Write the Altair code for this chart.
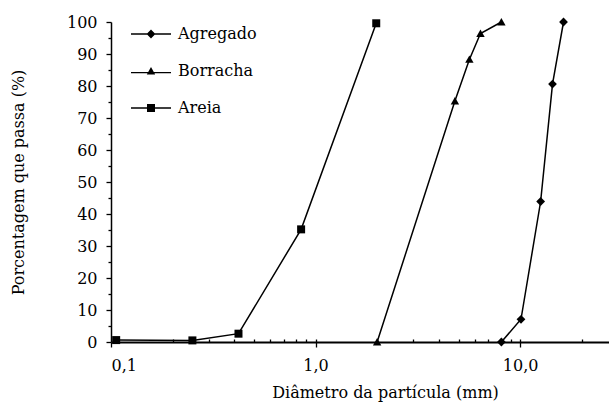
import altair as alt
import pandas as pd

# Particle size distribution curves (percent passing vs. particle diameter)
series_names = ["Agregado", "Borracha", "Areia"]

agregado_mm = [8.1, 10.1, 12.6, 14.4, 16.3]
agregado_pct = [0.0, 7.1, 43.9, 80.6, 100.0]

borracha_mm = [2.0, 4.8, 5.65, 6.4, 8.1]
borracha_pct = [0.0, 75.3, 88.3, 96.4, 100.0]

areia_mm = [0.106, 0.25, 0.42, 0.85, 1.98]
areia_pct = [0.6, 0.5, 2.6, 35.2, 99.6]

x_major = [0.1, 1.0, 10.0]
x_inner = [0.2, 0.3, 0.4, 0.5, 0.6, 0.7, 0.8, 0.9, 1.0,
           2.0, 3.0, 4.0, 5.0, 6.0, 7.0, 8.0, 9.0, 10.0, 20.0]
y_major = list(range(0, 101, 10))
y_minor = list(range(5, 100, 10))

# Plot markers: diamond, triangle, square
marker_paths = [
    "M0,-1.1L1.1,0L0,1.1L-1.1,0Z",
    "M0,-1L1.05,0.85L-1.05,0.85Z",
    "M-1,-1H1V1H-1Z",
]
# Legend keys: the same markers on a thin horizontal bar (all filled)
legend_paths = [
    "M-5,-0.18H5V0.18H-5ZM0,-1.1L1.1,0L0,1.1L-1.1,0Z",
    "M-5,0.22H5V0.58H-5ZM0,-1L1.05,0.85L-1.05,0.85Z",
    "M-5,-0.18H5V0.18H-5ZM-1,-1H1V1H-1Z",
]

frames = []
for name, xs, ys in [("Agregado", agregado_mm, agregado_pct),
                     ("Borracha", borracha_mm, borracha_pct),
                     ("Areia", areia_mm, areia_pct)]:
    frames.append(pd.DataFrame({"serie": name, "diametro": xs, "passa": ys}))
df = pd.concat(frames, ignore_index=True)

FONT = "DejaVu Serif"

x_scale = alt.Scale(type="log", domain=[0.1, 27.2], nice=False)
y_scale = alt.Scale(domain=[0, 100], nice=False)

x_axis = alt.Axis(
    values=x_major,
    labelExpr="replace(format(datum.value, '.1f'), '.', ',')",
    tickSize=5, tickWidth=1.3, domainWidth=2, domainColor="black",
    tickColor="black", labelPadding=10, labelFontSize=16,
    labelFont=FONT, labelColor="black",
    title="Diâmetro da partícula (mm)", titleFontSize=16, titlePadding=11,
    titleFont=FONT, titleColor="black", titleFontWeight="normal",
    titleX=274, grid=False,
)
y_axis = alt.Axis(
    values=y_major, tickSize=5, tickWidth=1.3, domainWidth=1.5,
    domainColor="black", tickColor="black", labelPadding=9,
    labelFontSize=16, labelFont=FONT, labelColor="black",
    title="Porcentagem que passa (%)", titleFontSize=16,
    titleFont=FONT, titleColor="black", titleFontWeight="normal",
    titlePadding=40, grid=False,
)

base = alt.Chart(df)

lines = base.mark_line(color="black", strokeWidth=1.5).encode(
    x=alt.X("diametro:Q", scale=x_scale, axis=x_axis),
    y=alt.Y("passa:Q", scale=y_scale, axis=y_axis),
    detail="serie:N",
    order="diametro:Q",
)

points = base.mark_point(
    filled=True, color="black", opacity=1, strokeWidth=0, size=64
).encode(
    x=alt.X("diametro:Q", scale=x_scale, axis=None),
    y=alt.Y("passa:Q", scale=y_scale, axis=None),
    shape=alt.Shape("serie:N",
                    scale=alt.Scale(domain=series_names, range=marker_paths),
                    legend=None),
)

# Legend-only layer: draws nothing, supplies the keyed legend
legend_layer = base.transform_filter("false").mark_point(
    filled=True, color="black", size=64, opacity=1,
).encode(
    x=alt.X("diametro:Q", scale=x_scale, axis=None),
    y=alt.Y("passa:Q", scale=y_scale, axis=None),
    shape=alt.Shape(
        "serie:N",
        scale=alt.Scale(domain=series_names, range=legend_paths),
        legend=alt.Legend(
            title=None, orient="none", legendX=32, legendY=4,
            symbolSize=64, symbolFillColor="black", symbolOpacity=1,
            symbolStrokeWidth=0,
            labelFont=FONT, labelFontSize=16, labelColor="black",
            labelOffset=19, rowPadding=21, padding=0,
        ),
    ),
)

# Inner tick marks along the horizontal axis
x_inner_ticks = base.mark_point(opacity=0).encode(
    x=alt.X("diametro:Q", scale=x_scale,
            axis=alt.Axis(orient="bottom", values=x_inner, offset=-3,
                          tickSize=3, tickWidth=1.3, tickColor="black",
                          domain=False, labels=False, title=None, grid=False)),
)

# Intermediate ticks on the vertical axis
y_minor_ticks = base.mark_point(opacity=0).encode(
    y=alt.Y("passa:Q", scale=y_scale,
            axis=alt.Axis(orient="left", values=y_minor, tickSize=3,
                          tickWidth=1.3, tickColor="black", domain=False,
                          labels=False, title=None, grid=False)),
)

chart = (
    alt.layer(lines, points, legend_layer, x_inner_ticks, y_minor_ticks)
    .resolve_axis(x="independent", y="independent")
    .resolve_scale(shape="independent")
    .properties(
        width=498, height=320,
        autosize=alt.AutoSizeParams(type="none"),
        padding={"left": 111, "top": 22, "right": 0, "bottom": 61},
        background="white",
    )
    .configure_view(stroke=None)
)

chart.save("out.html", embed_options={"renderer": "svg", "actions": False})
